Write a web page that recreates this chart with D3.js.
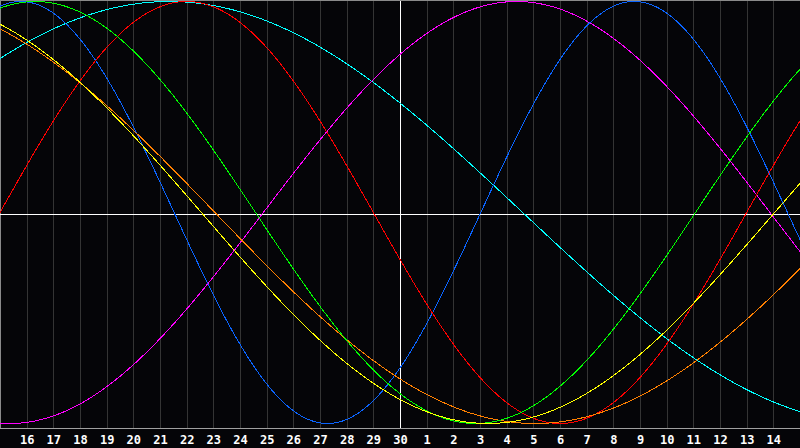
<!DOCTYPE html>
<html>
<head>
<meta charset="utf-8">
<script src="https://cdn.jsdelivr.net/npm/d3@7"></script>
<style>
  html, body { margin: 0; padding: 0; background: #050508; }
  svg { display: block; }
</style>
</head>
<body>
<svg id="chart" width="800" height="448"></svg>
<script>
// Day tick labels (chart spans 30 days; label i sits at day index i)
const dayLabels = ["16","17","18","19","20","21","22","23","24","25","26","27","28","29","30",
                   "1","2","3","4","5","6","7","8","9","10","11","12","13","14"];
const todayIndex = 15;             // "30" – marked with the white vertical line
const totalDays = 30;

// Biorhythm cycles: name, cycle length (days), day index of upward zero crossing, colour
const cycleNames   = ["physical","emotional","intellectual","intuitive","aesthetic","awareness","spiritual"];
const cycleLengths = [23, 28, 33, 38, 43, 48, 53];
const zeroCrossing = [18.03, 0.0, 26.08, 9.875, 29.05, 32.06, 46.1];
const cycleColors  = ["#0a64ff","#ff0000","#00ff00","#ff00ff","#ffff00","#ff8000","#00ffff"];
const drawOrder    = [6, 3, 0, 1, 5, 2, 4];

const svg = d3.select("#chart");
const W = 800, plotBottom = 428;

const x = d3.scaleLinear().domain([0, totalDays]).range([0, W]);
const y = d3.scaleLinear().domain([-1, 1]).range([423.5, 1.5]);

svg.append("rect").attr("x",0).attr("y",0).attr("width",800).attr("height",448).attr("fill","#050508");

// vertical day grid
const gridIdx = d3.range(1, totalDays);
svg.append("g").selectAll("line").data(gridIdx).join("line")
  .attr("x1", d => Math.round(x(d)) + 0.5).attr("x2", d => Math.round(x(d)) + 0.5)
  .attr("y1", 0).attr("y2", plotBottom)
  .attr("stroke", d => d === todayIndex ? "#ffffff" : "#343434")
  .attr("stroke-width", 1)
  .attr("shape-rendering", "crispEdges");

// borders
svg.append("line").attr("x1",0.5).attr("x2",0.5).attr("y1",0).attr("y2",plotBottom)
  .attr("stroke","#8a8a8a").attr("shape-rendering","crispEdges");
svg.append("line").attr("x1",0).attr("x2",W).attr("y1",0.5).attr("y2",0.5)
  .attr("stroke","#8a8a8a").attr("shape-rendering","crispEdges");
svg.append("line").attr("x1",0).attr("x2",W).attr("y1",plotBottom+0.5).attr("y2",plotBottom+0.5)
  .attr("stroke","#a0a0a0").attr("shape-rendering","crispEdges");

// centre (zero) line
svg.append("line").attr("x1",0).attr("x2",W)
  .attr("y1", Math.round(y(0)) + 1.5).attr("y2", Math.round(y(0)) + 1.5)
  .attr("stroke","#ffffff").attr("shape-rendering","crispEdges");

// curves
const samples = d3.range(0, totalDays + 0.001, 0.05);
const line = d3.line().x(d => x(d[0])).y(d => y(d[1]));
const curves = svg.append("g");
drawOrder.forEach(k => {
  const pts = samples.map(t => [t, Math.sin(2 * Math.PI * (t - zeroCrossing[k]) / cycleLengths[k])]);
  curves.append("path")
    .attr("d", line(pts))
    .attr("fill", "none")
    .attr("stroke", cycleColors[k])
    .attr("stroke-width", 1)
    .attr("shape-rendering", "crispEdges")
    .attr("data-name", cycleNames[k]);
});

// day labels
svg.append("g").selectAll("text").data(dayLabels).join("text")
  .attr("x", (d, i) => x(i + 1) + 0.5)
  .attr("y", 443.5)
  .attr("text-anchor", "middle")
  .attr("fill", "#ffffff")
  .attr("font-family", "'DejaVu Sans Mono', monospace")
  .attr("font-weight", "bold")
  .attr("font-size", "12px")
  .text(d => d);
</script>
</body>
</html>
